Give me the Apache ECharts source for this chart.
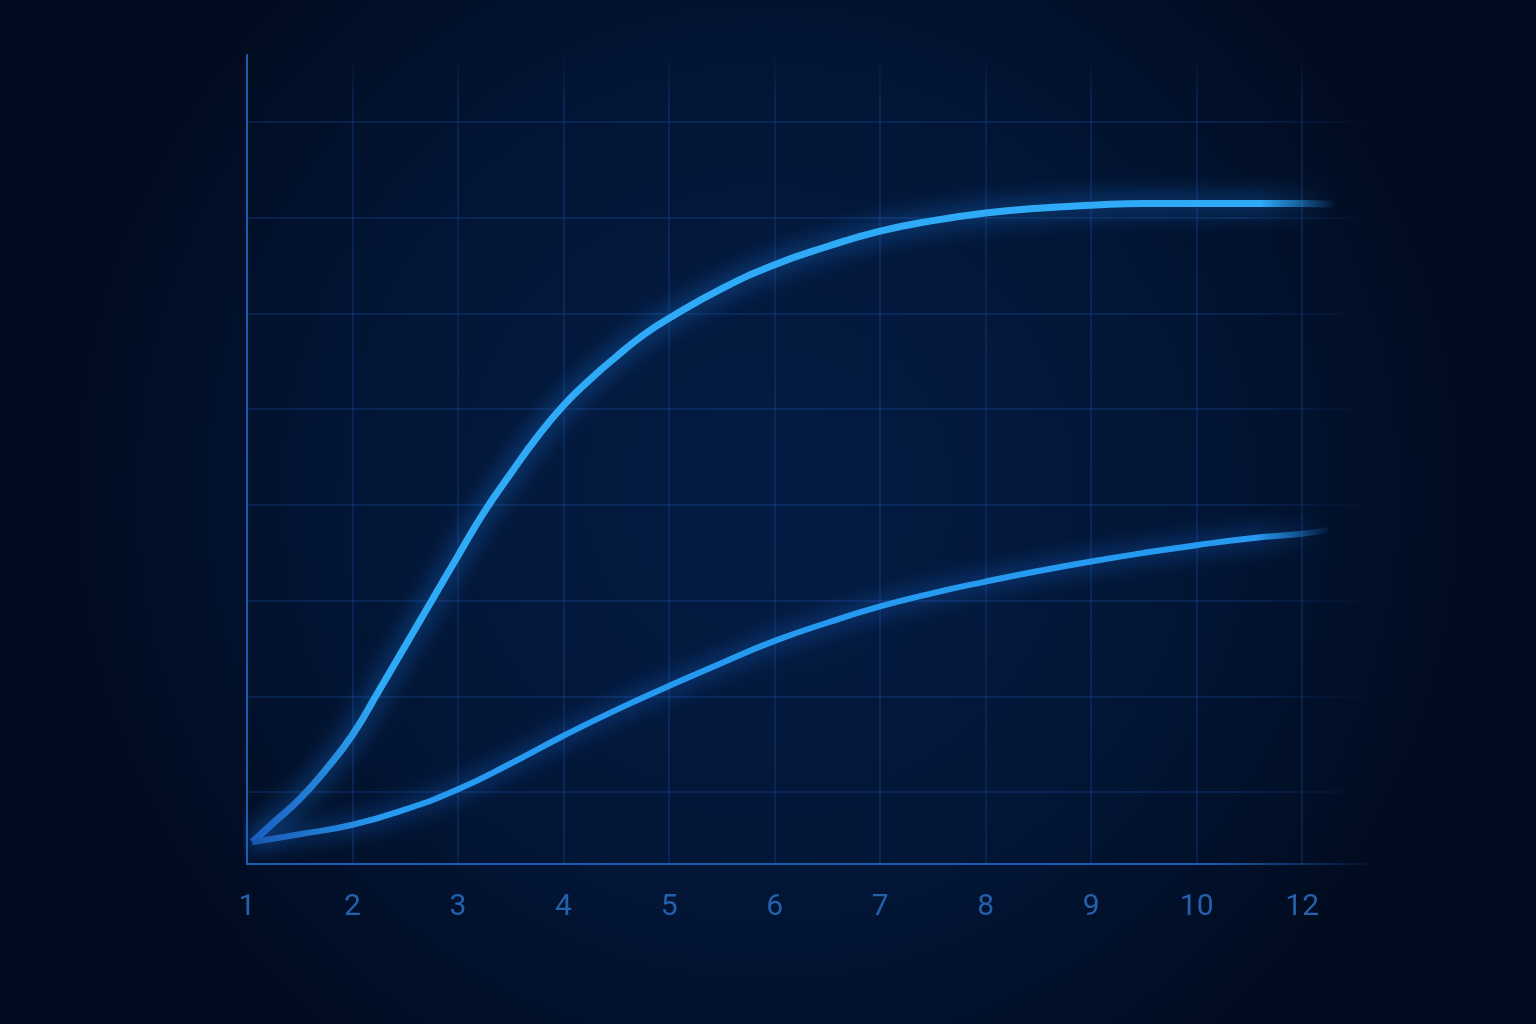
<!DOCTYPE html>
<html>
<head>
<meta charset="utf-8">
<title>curves</title>
<style>
  html, body { margin: 0; padding: 0; background: #020d24; }
  #growthChart { width: 1536px; height: 1024px; }
</style>
<script src="https://cdn.jsdelivr.net/npm/echarts@6.0.0/dist/echarts.min.js"></script>
</head>
<body>
<div id="growthChart"></div>
<script>
// tick labels along the bottom (the picture skips 11)
var xLabels = ['1', '2', '3', '4', '5', '6', '7', '8', '9', '10', '12'];

// upper curve (denser where it is steep)
var upperX = [1.05, 1.25, 1.5, 1.75, 2, 2.25, 2.5, 2.75, 3, 3.25, 3.5, 3.75, 4, 4.25, 4.5, 4.75,
  5, 5.5, 6, 6.5, 7, 7.5, 8, 8.5, 9, 9.5, 10, 10.5, 11, 11.3];
var upperY = [4.8, 6.8, 9.3, 12.4, 16.0, 20.6, 25.3, 30.0, 34.7, 39.3, 43.3, 47.1, 50.4, 53.1, 55.5, 57.7,
  59.5, 62.6, 65.1, 67.0, 68.6, 69.7, 70.5, 71.0, 71.3, 71.5, 71.5, 71.5, 71.5, 71.4];

// lower curve
var lowerX = [1.05, 1.5, 2, 2.5, 3, 3.5, 4, 4.5, 5, 5.5, 6, 6.5, 7, 7.5, 8, 8.5, 9, 9.5, 10, 10.5, 11, 11.25];
var lowerY = [4.8, 5.6, 6.6, 8.2, 10.3, 13.0, 15.9, 18.6, 21.1, 23.5, 25.8, 27.7, 29.4, 30.8, 32.0, 33.1, 34.1, 35.0, 35.8, 36.5, 37.0, 37.4];

function Page() {
  var _this = this;
  _this.init();
}

Page.prototype = {

  init: function () {
    var _this = this;
    _this.initChart();
  },

  pairs: function (xs, ys) {
    var out = [];
    for (var i = 0; i < xs.length; i++) {
      out.push([xs[i], ys[i]]);
    }
    return out;
  },

  lineColor: function (startColor, mainColor) {
    return new echarts.graphic.LinearGradient(0, 0, 1, 0, [
      { offset: 0, color: startColor },
      { offset: 0.12, color: mainColor },
      { offset: 0.93, color: mainColor },
      { offset: 1, color: 'rgba(40,150,240,0)' }
    ]);
  },

  initChart: function () {
    var _this = this;
    var myChart = echarts.init(document.getElementById('growthChart'));

    var option = {
      backgroundColor: new echarts.graphic.RadialGradient(0.5, 0.48, 0.7, [
        { offset: 0, color: '#041c44' },
        { offset: 0.6, color: '#021535' },
        { offset: 1, color: '#010b1f' }
      ]),
      animation: false,
      grid: {
        left: 247,
        right: 160,
        top: 55,
        bottom: 160
      },
      xAxis: {
        type: 'value',
        min: 1,
        max: 11.7,
        interval: 1,
        axisLine: {
          show: true,
          lineStyle: {
            width: 2,
            color: new echarts.graphic.LinearGradient(0, 0, 1, 0, [
              { offset: 0, color: '#1b5cae' },
              { offset: 0.85, color: '#1b5cae' },
              { offset: 1, color: 'rgba(27,92,174,0)' }
            ])
          }
        },
        axisTick: { show: false },
        axisLabel: {
          margin: 28,
          color: '#2461aa',
          fontSize: 30,
          fontFamily: 'Roboto',
          formatter: function (v) {
            var i = Math.round(v) - 1;
            return xLabels[i] !== undefined && Math.abs(v - Math.round(v)) < 1e-6 ? xLabels[i] : '';
          }
        },
        splitLine: {
          show: true,
          showMinLine: false,
          showMaxLine: false,
          lineStyle: {
            width: 1.5,
            color: new echarts.graphic.LinearGradient(0, 0, 0, 1, [
              { offset: 0, color: 'rgba(25,80,170,0)' },
              { offset: 0.06, color: 'rgba(25,80,170,0.35)' },
              { offset: 1, color: 'rgba(25,80,170,0.35)' }
            ])
          }
        }
      },
      yAxis: {
        type: 'value',
        min: 2.5,
        max: 87,
        splitNumber: 8,
        axisLine: {
          show: true,
          lineStyle: { width: 2, color: '#1b5cae' }
        },
        axisTick: { show: false },
        axisLabel: { show: false },
        splitLine: {
          show: true,
          showMinLine: false,
          showMaxLine: false,
          lineStyle: {
            width: 1.5,
            color: new echarts.graphic.LinearGradient(0, 0, 1, 0, [
              { offset: 0, color: 'rgba(25,80,170,0.35)' },
              { offset: 0.88, color: 'rgba(25,80,170,0.35)' },
              { offset: 1, color: 'rgba(25,80,170,0)' }
            ])
          }
        }
      },
      series: [
        {
          name: 'upper',
          type: 'line',
          smooth: 0.5,
          symbol: 'none',
          data: _this.pairs(upperX, upperY),
          lineStyle: {
            width: 7,
            color: _this.lineColor('#1a58b8', '#2eaaf6'),
            shadowBlur: 24,
            shadowColor: 'rgba(30,140,255,0.85)'
          }
        },
        {
          name: 'lower',
          type: 'line',
          smooth: 0.5,
          symbol: 'none',
          data: _this.pairs(lowerX, lowerY),
          lineStyle: {
            width: 6,
            color: _this.lineColor('#1a55b0', '#2699f0'),
            shadowBlur: 22,
            shadowColor: 'rgba(30,130,255,0.8)'
          }
        }
      ]
    };

    myChart.setOption(option);
  }
};

var page = new Page();
</script>
</body>
</html>
